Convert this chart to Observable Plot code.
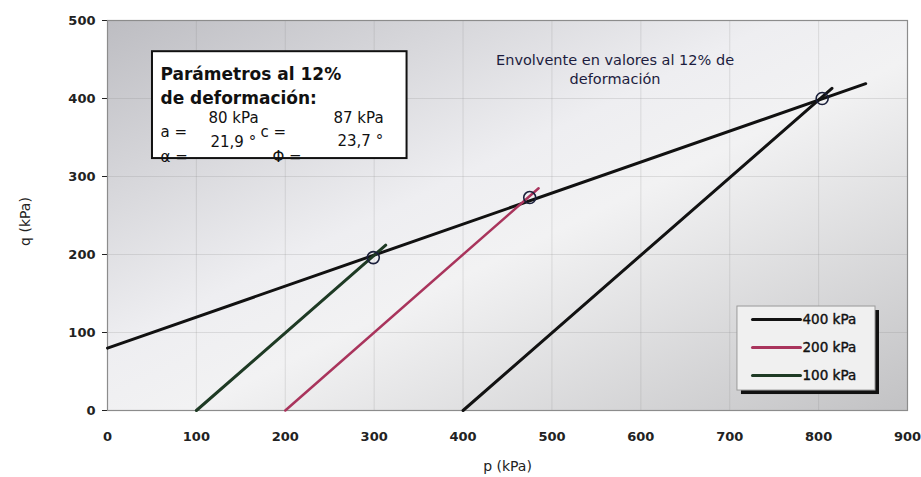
<!DOCTYPE html>
<html><head><meta charset="utf-8">
<script src="https://cdn.jsdelivr.net/npm/d3@7"></script>
<script src="https://cdn.jsdelivr.net/npm/@observablehq/plot@0.6"></script>
<style>
body{margin:0;background:#fff;}
#chart{width:921px;height:477px;}
</style></head><body><div id="chart"></div>
<script>
// ---- data ----
const seriesNames  = ["400 kPa", "200 kPa", "100 kPa"];
const seriesColors = ["#121212", "#a9345c", "#1e3a24"];
const pathStartP = [400, 200, 100];
const pathStartQ = [0, 0, 0];
const pathEndP   = [815, 485, 313];
const pathEndQ   = [413, 285, 212];
const failureP   = [804, 475, 299];
const failureQ   = [400, 273, 196];
const envelopeP  = [0, 853];
const envelopeQ  = [80, 419];
const xTicks = [0, 100, 200, 300, 400, 500, 600, 700, 800, 900];
const yTicks = [0, 100, 200, 300, 400, 500];
const paramLabels = {a: "80 kPa", c: "87 kPa", alpha: "21,9 °", phi: "23,7 °"};

// ---- derived tables ----
const paths = seriesNames.map((name, i) => ({
  name, color: seriesColors[i],
  pts: [{p: pathStartP[i], q: pathStartQ[i]}, {p: pathEndP[i], q: pathEndQ[i]}]
}));
const envelope = envelopeP.map((p, i) => ({p, q: envelopeQ[i]}));
const failures = failureP.map((p, i) => ({p, q: failureQ[i]}));

// ---- annotation layout (data-space anchors) ----
const boxAnchor = {p: 50.6, q: 460};
const boxRect = [{x1: 50.6, x2: 337, y1: 323, y2: 460}];
const envTextAnchor = {p: 571, q: 460};
const legRect = [{x1: 708.7, x2: 864, y1: 25.6, y2: 133.3}];
const legRowQ = [116.7, 80.8, 44.9];
const legLineP = [725.6, 779.6];
const legTextP = 781.9;

const boxTexts = [
  {t: "Parámetros al 12%", dx: 8, dy: 23, size: 17, w: "bold"},
  {t: "de deformación:", dx: 8, dy: 47, size: 17, w: "bold"},
  {t: "a =", dx: 8, dy: 80, size: 15, w: "normal"},
  {t: paramLabels.a, dx: 56, dy: 66, size: 15, w: "normal"},
  {t: "c =", dx: 108, dy: 80, size: 15, w: "normal"},
  {t: paramLabels.c, dx: 181, dy: 66, size: 15, w: "normal"},
  {t: paramLabels.alpha, dx: 58, dy: 90, size: 15, w: "normal"},
  {t: paramLabels.phi, dx: 185, dy: 89, size: 15, w: "normal"},
  {t: "α =", dx: 8, dy: 105, size: 15, w: "normal", clip: true},
  {t: "Φ =", dx: 120, dy: 105, size: 15, w: "normal", clip: true}
];

const marks = [
  Plot.frame({fill: "url(#bgGrad)", stroke: "none"}),
  Plot.gridX(xTicks, {stroke: "#8a8a8a", strokeOpacity: 0.22}),
  Plot.gridY(yTicks, {stroke: "#8a8a8a", strokeOpacity: 0.22}),
  Plot.frame({stroke: "#8c8c8c", strokeWidth: 1.2}),
  // parameter box
  Plot.rect(boxRect, {x1: "x1", x2: "x2", y1: "y1", y2: "y2", fill: "#fff", stroke: "#111", strokeWidth: 2, ariaLabel: "parambox"}),
  ...boxTexts.map(b => Plot.text([b], {x: () => boxAnchor.p, y: () => boxAnchor.q, text: "t", dx: b.dx, dy: b.dy,
      textAnchor: "start", lineAnchor: "middle", fontSize: b.size, fontWeight: b.w, fill: "#111",
      ariaLabel: b.clip ? "boxclip" : "boxtext"})),
  // envelope annotation
  Plot.text(["Envolvente en valores al 12% de\ndeformación"], {x: () => envTextAnchor.p, y: () => envTextAnchor.q,
      text: d => d, textAnchor: "middle", lineAnchor: "top", fontSize: 14.5, fontWeight: "normal", fill: "#1c1c3e", lineHeight: 1.3}),
  // envelope and stress paths
  Plot.line(envelope, {x: "p", y: "q", stroke: "#111", strokeWidth: 3}),
  ...paths.map(s => Plot.line(s.pts, {x: "p", y: "q", stroke: s.color, strokeWidth: s.name === "200 kPa" ? 2.5 : 3})),
  Plot.dot(failures, {x: "p", y: "q", r: 6, stroke: "#1a1f3a", strokeWidth: 1.6, fill: "none"}),
  // legend
  Plot.rect(legRect, {x1: "x1", x2: "x2", y1: "y1", y2: "y2", fill: "#111", dx: 4, dy: 4}),
  Plot.rect(legRect, {x1: "x1", x2: "x2", y1: "y1", y2: "y2", fill: "#f0f0f0", stroke: "#9a9a9a", strokeWidth: 1}),
  ...paths.map((s, i) => Plot.line([{p: legLineP[0], q: legRowQ[i]}, {p: legLineP[1], q: legRowQ[i]}],
      {x: "p", y: "q", stroke: s.color, strokeWidth: 3})),
  Plot.text(paths, {x: () => legTextP, y: (d, i) => legRowQ[i], text: "name", textAnchor: "start",
      fontSize: 13.5, fontWeight: "normal", fill: "#111", stroke: "#111", strokeWidth: 0.4}),
  // axis titles
  Plot.text(["p (kPa)"], {frameAnchor: "bottom", text: d => d, dy: 60, textAnchor: "middle", fontSize: 14, fontWeight: "normal", fill: "#222"}),
  Plot.text(["q (kPa)"], {frameAnchor: "left", text: d => d, dx: -82, dy: 6, rotate: -90, textAnchor: "middle", lineAnchor: "middle",
      fontSize: 14, fontWeight: "normal", fill: "#222"})
];

const chart = Plot.plot({
  width: 921, height: 477,
  marginLeft: 107, marginRight: 14, marginTop: 20, marginBottom: 67,
  style: {fontFamily: "DejaVu Sans", fontSize: "13px", fontWeight: "bold", color: "#222", background: "transparent"},
  x: {domain: [0, 900], ticks: xTicks, tickSize: 0, tickPadding: 21, label: null},
  y: {domain: [0, 500], ticks: yTicks, tickSize: 5, tickPadding: 7, label: null},
  marks
});

// gradient + clip defs
const svg = d3.select(chart.tagName.toLowerCase() === "svg" ? chart : chart.querySelector("svg"));
const defs = svg.insert("defs", ":first-child");
const g = defs.append("linearGradient").attr("id", "bgGrad").attr("x1", 0).attr("y1", 0).attr("x2", 1).attr("y2", 1);
[[0, "#bdbdc2"], [0.42, "#eeeef1"], [0.55, "#f2f2f3"], [1, "#c2c2c4"]].forEach(([o, c]) =>
  g.append("stop").attr("offset", o).attr("stop-color", c));
document.getElementById("chart").appendChild(chart);
const boxEl = svg.select('g[aria-label="parambox"] rect').node();
if (boxEl) {
  const bb = boxEl.getBBox();
  defs.append("clipPath").attr("id", "boxClip").append("rect")
    .attr("x", bb.x).attr("y", bb.y).attr("width", bb.width).attr("height", bb.height);
  svg.selectAll('g[aria-label="boxclip"]').attr("clip-path", "url(#boxClip)");
}
</script></body></html>
